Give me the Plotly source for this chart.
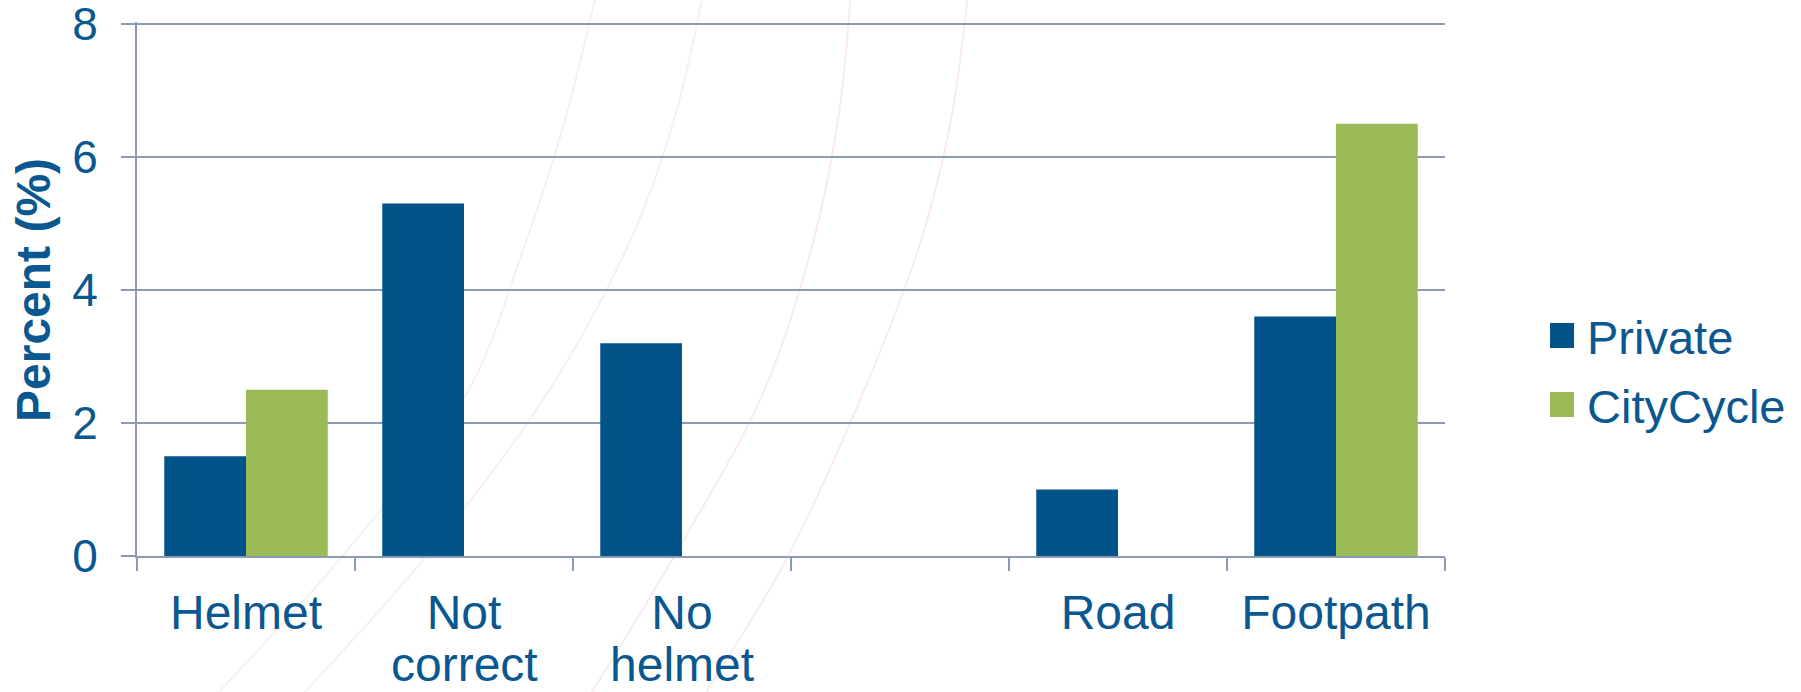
import plotly.graph_objects as go

# Data
categories = ["Helmet", "Not correct", "No helmet", " ", "Road", "Footpath"]
tick_lines = [["Helmet"], ["Not", "correct"], ["No", "helmet"], [""], ["Road"], ["Footpath"]]
private = [1.5, 5.3, 3.2, None, 1.0, 3.6]
citycycle = [2.5, None, None, None, None, 6.5]
series_names = ["Private", "CityCycle"]
y_max = 8

BLUE = "#02538A"
GREEN = "#9BBB59"
TEXT = "#0B5790"
GRID = "#8C9AB2"
FONT = "Liberation Sans, Arial, sans-serif"

W, H = 1801, 692
L, R, T, B = 137, 356, 22, 136
PW = W - L - R
PH = H - T - B


def px_x(x):
    return (x - L) / PW


def px_y(y):
    return 1 - (y - T) / PH


def smooth_path(pts):
    """Catmull-Rom curve through pixel points, as an SVG path in paper units."""
    P = [(px_x(x), px_y(y)) for x, y in pts]
    d = f"M{P[0][0]:.5f},{P[0][1]:.5f}"
    for i in range(len(P) - 1):
        p0 = P[i - 1] if i > 0 else P[i]
        p1, p2 = P[i], P[i + 1]
        p3 = P[i + 2] if i + 2 < len(P) else P[i + 1]
        c1 = (p1[0] + (p2[0] - p0[0]) / 6, p1[1] + (p2[1] - p0[1]) / 6)
        c2 = (p2[0] - (p3[0] - p1[0]) / 6, p2[1] - (p3[1] - p1[1]) / 6)
        d += (f" C{c1[0]:.5f},{c1[1]:.5f} {c2[0]:.5f},{c2[1]:.5f}"
              f" {p2[0]:.5f},{p2[1]:.5f}")
    return d


fig = go.Figure()

# Faint decorative arcs of the slide background
background_arcs = [
    ("#F2F2F5", [(596, -5), (565, 120), (523, 250), (463, 400), (339, 560), (219, 692), (210, 700)]),
    ("#F2F2F5", [(703, -5), (674, 120), (626, 250), (543, 400), (423, 560), (305, 692), (298, 700)]),
    ("#FAEAEE", [(851, -5), (838, 120), (811, 250), (760, 400), (672, 560), (592, 692), (586, 700)]),
    ("#FAEAEE", [(968, -5), (951, 120), (918, 250), (860, 400), (786, 560), (706, 692), (700, 700)]),
]
for color, pts in background_arcs:
    fig.add_shape(type="path", xref="paper", yref="paper", path=smooth_path(pts),
                  line=dict(color=color, width=2), layer="below")

fig.add_trace(go.Bar(x=categories, y=private, name=series_names[0],
                     marker=dict(color=BLUE, line=dict(width=0))))
fig.add_trace(go.Bar(x=categories, y=citycycle, name=series_names[1],
                     marker=dict(color=GREEN, line=dict(width=0))))

fig.update_layout(
    width=W, height=H,
    margin=dict(l=L, r=R, t=T, b=B, pad=0),
    plot_bgcolor="rgba(0,0,0,0)", paper_bgcolor="white",
    barmode="group", bargap=0.25, bargroupgap=0,
    showlegend=False,
    font=dict(family=FONT, size=46, color=TEXT),
)

fig.update_xaxes(
    type="category", automargin=False,
    tickmode="array", tickvals=categories, ticktext=[lines[0] for lines in tick_lines],
    tickson="boundaries", ticks="outside", ticklen=13, tickwidth=2,
    tickcolor=GRID, showline=True, linecolor=GRID, linewidth=2,
    showgrid=False, ticklabelstandoff=13,
    tickfont=dict(family=FONT, size=48, color=TEXT),
)
fig.update_yaxes(
    range=[0, y_max + 0.03], dtick=2, tick0=0, automargin=False,
    showgrid=True, gridcolor=GRID, gridwidth=2,
    ticks="outside", ticklen=14, tickwidth=2, tickcolor=GRID,
    showline=True, linecolor=GRID, linewidth=2, zeroline=False,
    ticklabelstandoff=14, ticklabeloverflow="allow",
    tickfont=dict(family=FONT, size=46, color=TEXT),
)

# Second lines of the wrapped category labels, set a little tighter than <br>
for cat, lines in zip(categories, tick_lines):
    if len(lines) > 1:
        fig.add_annotation(text=lines[1], xref="x", yref="paper", x=cat, y=px_y(664),
                           xanchor="center", yanchor="middle", showarrow=False,
                           font=dict(family=FONT, size=48, color=TEXT))

# Axis title
fig.add_annotation(
    text="<b>Percent (%)</b>", textangle=-90,
    xref="paper", yref="paper", x=px_x(33), y=px_y(24 + 266),
    xanchor="center", yanchor="middle", showarrow=False,
    font=dict(family=FONT, size=48, color=TEXT),
)

# Legend
legend_rows = [(series_names[0], BLUE, 335), (series_names[1], GREEN, 404)]
for name, color, cy in legend_rows:
    fig.add_shape(type="rect", xref="paper", yref="paper",
                  x0=px_x(1550), x1=px_x(1574), y0=px_y(cy - 12), y1=px_y(cy + 13),
                  fillcolor=color, line=dict(width=0))
    fig.add_annotation(text=name, xref="paper", yref="paper",
                       x=px_x(1585), y=px_y(cy + 2), xanchor="left", yanchor="middle",
                       showarrow=False,
                       font=dict(family=FONT, size=47, color=TEXT))

fig.write_html("out.html")
